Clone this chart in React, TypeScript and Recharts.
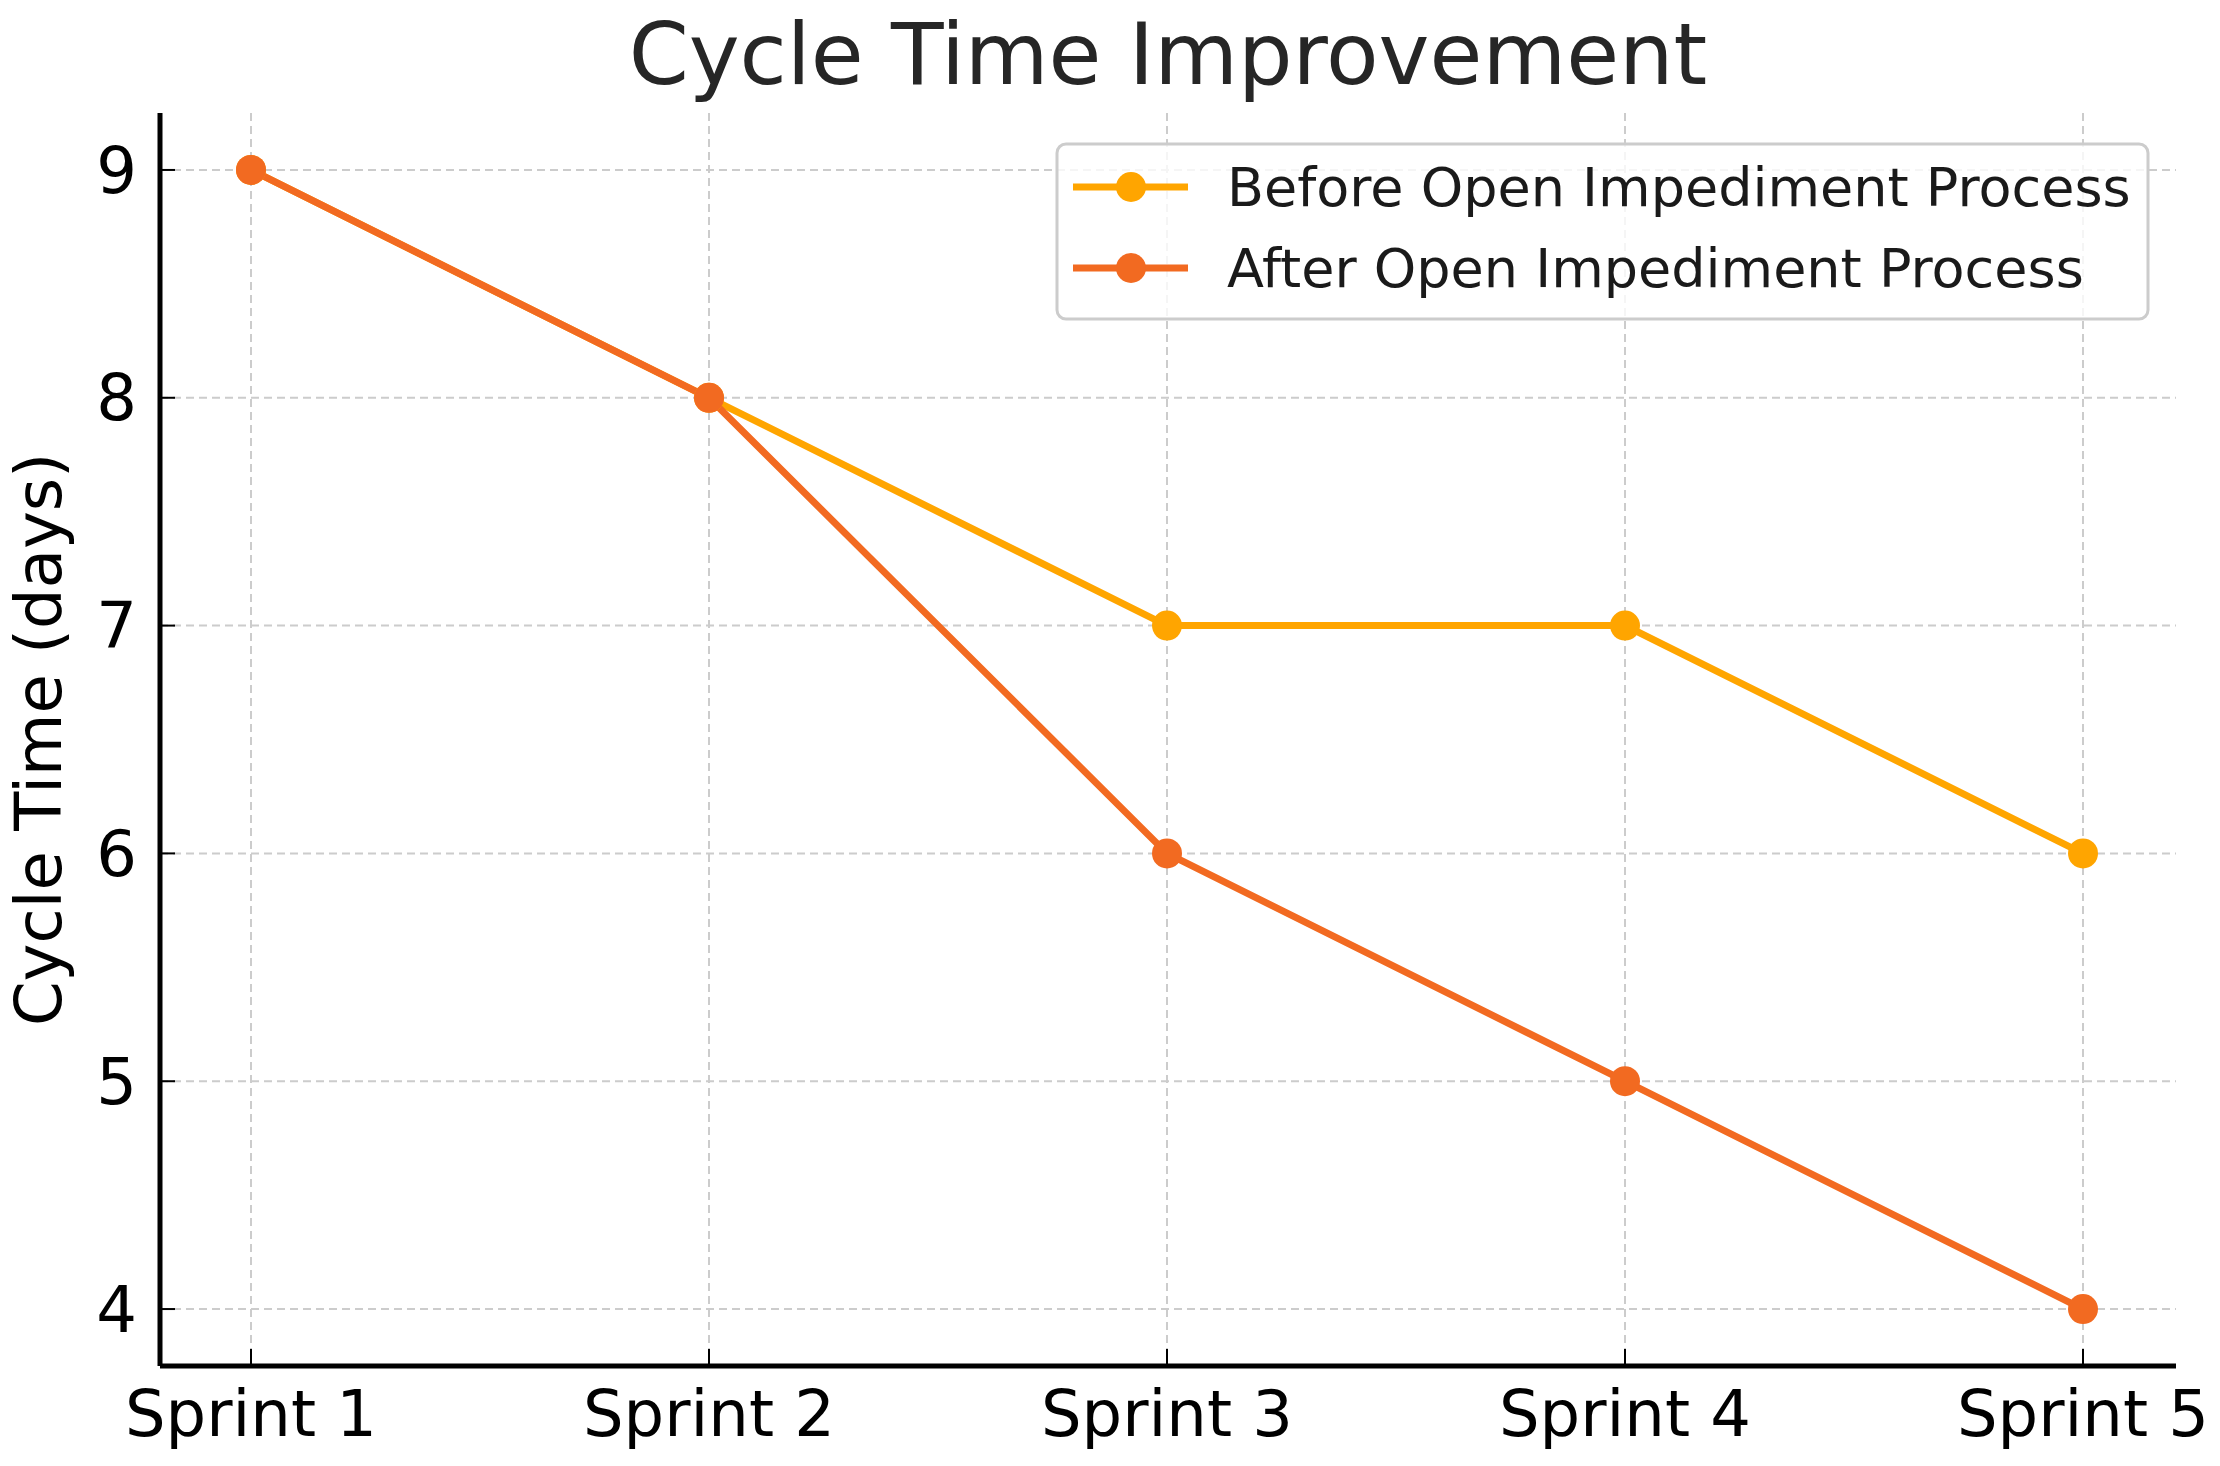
import React from 'react';
import { LineChart, Line, XAxis, YAxis, CartesianGrid } from 'recharts';

const sprints = ['Sprint 1', 'Sprint 2', 'Sprint 3', 'Sprint 4', 'Sprint 5'];
const beforeValues = [9, 8, 7, 7, 6];
const afterValues = [9, 8, 6, 5, 4];
const yTicks = [4, 5, 6, 7, 8, 9];
const seriesNames = ['Before Open Impediment Process', 'After Open Impediment Process'];
const seriesColors = ['#FFA500', '#F26A21'];
const titleText = 'Cycle Time Improvement';
const yLabelText = 'Cycle Time (days)';

const data = sprints.map((s, i) => ({ sprint: s, before: beforeValues[i], after: afterValues[i] }));

const FONT = 'DejaVu Sans';
const W = 2220;
const H = 1466;

export default function App() {
  return (
    <div style={{ position: 'absolute', left: 0, top: 0, width: W, height: H, background: '#fff' }}>
      <LineChart
        width={W}
        height={H}
        data={data}
        margin={{ top: 113, right: 44, bottom: 0, left: 0 }}
      >
        <CartesianGrid
          stroke="#cccccc"
          strokeWidth={2}
          strokeDasharray="8 5"
          syncWithTicks
          horizontalValues={yTicks}
          verticalValues={sprints}
        />
        <XAxis
          dataKey="sprint"
          type="category"
          height={100}
          padding={{ left: 91, right: 93 }}
          axisLine={{ stroke: '#000', strokeWidth: 5 }}
          tickLine={{ stroke: '#000', strokeWidth: 2 }}
          tickSize={-17}
          tickMargin={42}
          tick={{ fontSize: 64, fill: '#000', fontFamily: FONT }}
          interval={0}
        />
        <YAxis
          type="number"
          width={160}
          domain={[3.75, 9.25]}
          ticks={yTicks}
          allowDataOverflow
          axisLine={{ stroke: '#000', strokeWidth: 5 }}
          tickLine={{ stroke: '#000', strokeWidth: 2 }}
          tickSize={-15}
          tickMargin={38}
          tick={{ fontSize: 64, fill: '#000', fontFamily: FONT }}
          label={{
            value: yLabelText,
            angle: -90,
            position: 'center',
            dx: -42,
            style: { fontSize: 64, fill: '#000', fontFamily: FONT },
          }}
        />
        <Line
          type="linear"
          dataKey="before"
          name={seriesNames[0]}
          stroke={seriesColors[0]}
          strokeWidth={7}
          dot={{ r: 15, fill: seriesColors[0], stroke: seriesColors[0], strokeWidth: 0 }}
          activeDot={false}
          isAnimationActive={false}
        />
        <Line
          type="linear"
          dataKey="after"
          name={seriesNames[1]}
          stroke={seriesColors[1]}
          strokeWidth={7}
          dot={{ r: 15, fill: seriesColors[1], stroke: seriesColors[1], strokeWidth: 0 }}
          activeDot={false}
          isAnimationActive={false}
        />
      </LineChart>
      <svg
        width={W}
        height={H}
        style={{ position: 'absolute', left: 0, top: 0, pointerEvents: 'none' }}
      >
        <text x={1168} y={84} textAnchor="middle" fontSize={86} fontFamily={FONT} fill="#262626">
          {titleText}
        </text>
        <rect x={1057} y={144} width={1091} height={175} rx={9} ry={9} fill="rgba(255,255,255,0.8)" stroke="#cccccc" strokeWidth={3} />
        {seriesNames.map((name, i) => {
          const cy = 187 + i * 81;
          return (
            <g key={name}>
              <line x1={1073} x2={1188} y1={cy} y2={cy} stroke={seriesColors[i]} strokeWidth={7} />
              <circle cx={1131} cy={cy} r={15} fill={seriesColors[i]} />
              <text x={1227} y={cy + 19} fontSize={54} fontFamily={FONT} fill="#1a1a1a">
                {name}
              </text>
            </g>
          );
        })}
      </svg>
    </div>
  );
}
